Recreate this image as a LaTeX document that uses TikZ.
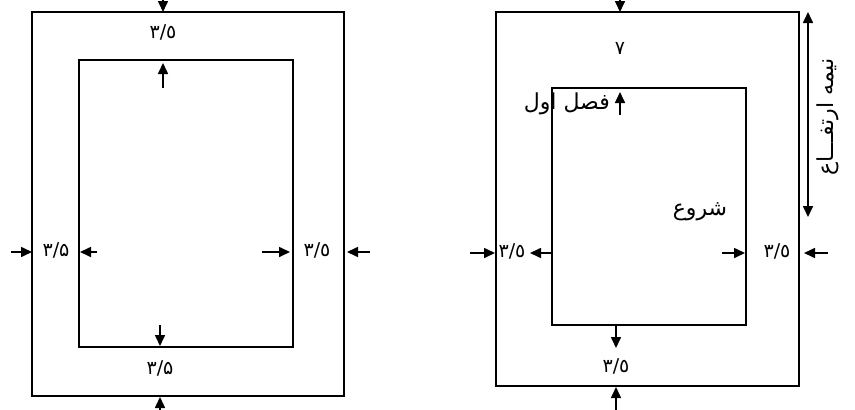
\documentclass[tikz,border=0pt]{standalone}
\usepackage{fontspec}
\usetikzlibrary{arrows.meta}
\TeXXeTstate=1
\newfontfamily\arabicfont[Script=Arabic]{DejaVu Sans}
\tikzset{
  box/.style={draw, line width=1.6pt},
  arr/.style={line width=1.6pt, -{Triangle[length=11pt,width=10pt]}},
  darr/.style={line width=1.6pt, {Triangle[length=11pt,width=10pt]}-{Triangle[length=11pt,width=10pt]}},
  lab/.style={font=\arabicfont\fontsize{19}{22}\selectfont, inner sep=0pt},
  wrd/.style={font=\arabicfont\fontsize{22}{26}\selectfont, inner sep=0pt}
}
\begin{document}
\begin{tikzpicture}[x=1pt,y=-1pt]
\useasboundingbox (0,0) rectangle (855,410);
% ---------- left diagram ----------
\draw[box] (32,12) rectangle (344,396);
\draw[box] (79,60) rectangle (293,347);
\coordinate (La1) at (163,0);   \coordinate (La2) at (163,12);
\coordinate (Lb1) at (163,88);  \coordinate (Lb2) at (163,63);
\coordinate (Lc1) at (11,252);  \coordinate (Lc2) at (32,252);
\coordinate (Ld1) at (97,252);  \coordinate (Ld2) at (80,252);
\coordinate (Le1) at (262,252); \coordinate (Le2) at (290,252);
\coordinate (Lf1) at (370,252); \coordinate (Lf2) at (347,252);
\coordinate (Lg1) at (160,325); \coordinate (Lg2) at (160,346);
\coordinate (Lh1) at (160,410); \coordinate (Lh2) at (160,397);
\draw[arr] (La1) -- (La2);
\draw[arr] (Lb1) -- (Lb2);
\draw[arr] (Lc1) -- (Lc2);
\draw[arr] (Ld1) -- (Ld2);
\draw[arr] (Le1) -- (Le2);
\draw[arr] (Lf1) -- (Lf2);
\draw[arr] (Lg1) -- (Lg2);
\draw[arr] (Lh1) -- (Lh2);
\node[lab] (Lt1) at (163,32) {٣/٥};
\node[lab] (Lt2) at (56,250) {۳/۵};
\node[lab] (Lt3) at (317,250) {٣/٥};
\node[lab] (Lt4) at (160,368) {۳/۵};
% ---------- right diagram ----------
\draw[box] (496,12) rectangle (799,386);
\draw[box] (552,88) rectangle (746,325);
\coordinate (Ra1) at (620,0);   \coordinate (Ra2) at (620,12);
\coordinate (Rb1) at (620,115); \coordinate (Rb2) at (620,92);
\coordinate (Rc1) at (470,253); \coordinate (Rc2) at (495,253);
\coordinate (Rd1) at (552,253); \coordinate (Rd2) at (530,253);
\coordinate (Re1) at (722,253); \coordinate (Re2) at (745,253);
\coordinate (Rf1) at (828,253); \coordinate (Rf2) at (804,253);
\coordinate (Rg1) at (616,325); \coordinate (Rg2) at (616,348);
\coordinate (Rh1) at (616,410); \coordinate (Rh2) at (616,387);
\coordinate (Ri1) at (808,12);  \coordinate (Ri2) at (808,217);
\draw[arr] (Ra1) -- (Ra2);
\draw[arr] (Rb1) -- (Rb2);
\draw[arr] (Rc1) -- (Rc2);
\draw[arr] (Rd1) -- (Rd2);
\draw[arr] (Re1) -- (Re2);
\draw[arr] (Rf1) -- (Rf2);
\draw[arr] (Rg1) -- (Rg2);
\draw[arr] (Rh1) -- (Rh2);
\draw[darr] (Ri1) -- (Ri2);
\node[lab] (Rt1) at (620,48) {۷};
\node[wrd, anchor=east] (Rt2) at (610,104) {\beginR فصل اول\endR};
\node[wrd] (Rt3) at (700,212) {\beginR شروع\endR};
\node[lab] (Rt4) at (512,251) {٣/٥};
\node[lab] (Rt5) at (777,251) {٣/٥};
\node[lab] (Rt6) at (616,366) {٣/٥};
\node[wrd, rotate=90] (Rt7) at (828,117) {\beginR نیمه ارتفـــاع\endR};
\end{tikzpicture}
\end{document}
